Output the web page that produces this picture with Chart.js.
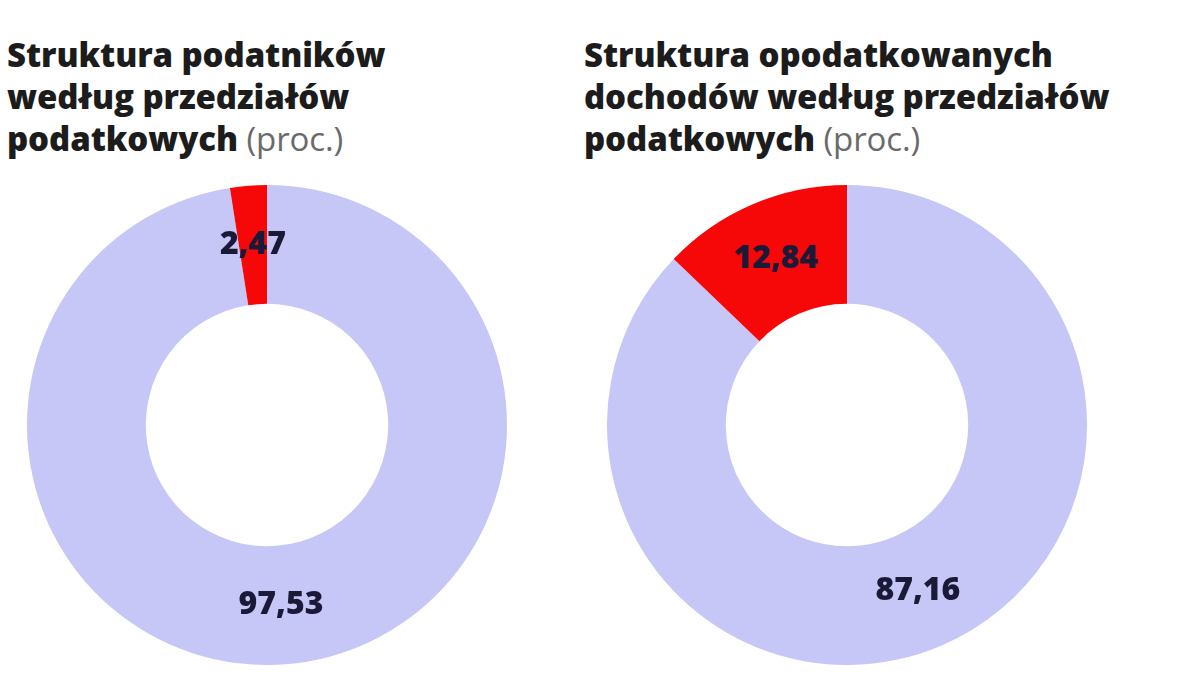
<!DOCTYPE html>
<html>
<head>
<meta charset="utf-8">
<script src="https://cdn.jsdelivr.net/npm/chart.js@4/dist/chart.umd.min.js"></script>
<style>
  html, body { margin: 0; padding: 0; background: #fff; }
  body { width: 1200px; height: 680px; position: relative; overflow: hidden; font-family: "Open Sans", sans-serif; }
  .title { position: absolute; top: 34px; font-weight: 800; font-size: 33px; line-height: 42px; color: #1c1c1c; letter-spacing: -0.1px; white-space: nowrap; }
  .title span { font-weight: 400; color: #6a6a6a; }
  .box { position: absolute; top: 185px; width: 480px; height: 480px; }
</style>
</head>
<body>
<div class="title" style="left:7px">Struktura podatników<br>według przedziałów<br>podatkowych <span>(proc.)</span></div>
<div class="title" style="left:584px">Struktura opodatkowanych<br>dochodów według przedziałów<br>podatkowych <span>(proc.)</span></div>
<div class="box" style="left:27px"><canvas id="c1"></canvas></div>
<div class="box" style="left:607px"><canvas id="c2"></canvas></div>
<script>
const categories = ["pierwszy przedział", "drugi przedział"];
const taxpayers = [97.53, 2.47];
const incomes = [87.16, 12.84];
const colors = ["#c6c6f7", "#f70808"];

function fmt(v) { return v.toFixed(2).replace('.', ','); }

const labelPlugin = {
  id: 'sliceLabels',
  afterDatasetsDraw(chart) {
    const ctx = chart.ctx;
    const meta = chart.getDatasetMeta(0);
    ctx.save();
    ctx.font = '800 32px "Open Sans", sans-serif';
    ctx.fillStyle = '#1a1a38';
    ctx.textAlign = 'center';
    ctx.textBaseline = 'middle';
    meta.data.forEach((arc, i) => {
      const p = arc.tooltipPosition();
      ctx.fillText(fmt(chart.data.datasets[0].data[i]), p.x, p.y);
    });
    ctx.restore();
  }
};

function make(id, values) {
  new Chart(document.getElementById(id), {
    type: 'doughnut',
    data: { labels: categories, datasets: [{ data: values, backgroundColor: colors, borderWidth: 0 }] },
    options: {
      responsive: true, maintainAspectRatio: false, animation: false,
      cutout: '50.5%', rotation: 0,
      layout: { padding: 0 },
      plugins: { legend: { display: false }, tooltip: { enabled: false } }
    },
    plugins: [labelPlugin]
  });
}
make('c1', taxpayers);
make('c2', incomes);
</script>
</body>
</html>
